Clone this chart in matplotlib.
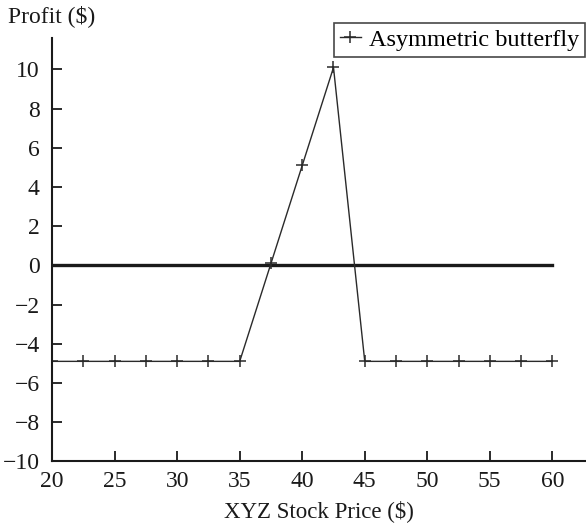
import matplotlib
matplotlib.use("Agg")
import matplotlib.pyplot as plt

# stock price at expiry and profit of the position
prices = [20, 22.5, 25, 27.5, 30, 32.5, 35, 37.5, 40, 42.5, 45, 47.5, 50, 52.5, 55, 57.5, 60]
profit = [-4.9, -4.9, -4.9, -4.9, -4.9, -4.9, -4.9, 0.1, 5.1, 10.1, -4.9, -4.9, -4.9, -4.9, -4.9, -4.9, -4.9]
xticks = [20, 25, 30, 35, 40, 45, 50, 55, 60]
yticks = [-10, -8, -6, -4, -2, 0, 2, 4, 6, 8, 10]

plt.rcParams["font.family"] = ["Liberation Serif", "DejaVu Serif"]
ink = "#1a1a1a"

fig = plt.figure(figsize=(5.86, 5.29), dpi=100)
ax = fig.add_axes([0.089, 0.128, 0.909, 0.80])

# break-even line
ax.plot([prices[0], prices[-1]], [0, 0], color=ink, lw=2.4)
ax.plot(prices, profit, color="#2a2a2a", lw=1.0, marker="+", ms=8, mew=1.1,
        label="Asymmetric butterfly")

ax.set_xlim(20, 62.6)
ax.set_ylim(-10, 11.6)
ax.set_xticks(xticks)
ax.set_yticks(yticks)
ax.set_yticklabels([str(v).replace("-", "\u2212") for v in yticks])

for side in ["top", "right"]:
    ax.spines[side].set_visible(False)
for side in ["left", "bottom"]:
    ax.spines[side].set_linewidth(1.5)
    ax.spines[side].set_color(ink)
ax.tick_params(direction="in", length=7, width=1.3, labelsize=17, colors=ink)
ax.tick_params(axis="x", pad=7)
ax.tick_params(axis="y", pad=9)

ax.set_xlabel("XYZ Stock Price ($)", fontsize=16.5, color=ink, labelpad=6)
fig.text(0.014, 0.969, "Profit ($)", fontsize=17, color=ink, va="center", ha="left")

leg = ax.legend(loc="upper right", bbox_to_anchor=(0.999, 0.957), bbox_transform=fig.transFigure,
                fontsize=17.5, frameon=True, fancybox=False, borderpad=0.25,
                handlelength=0.85, handletextpad=0.35, borderaxespad=0)
leg.get_frame().set_edgecolor(ink)
leg.get_frame().set_linewidth(1.2)

fig.savefig("out.png", dpi=100)
